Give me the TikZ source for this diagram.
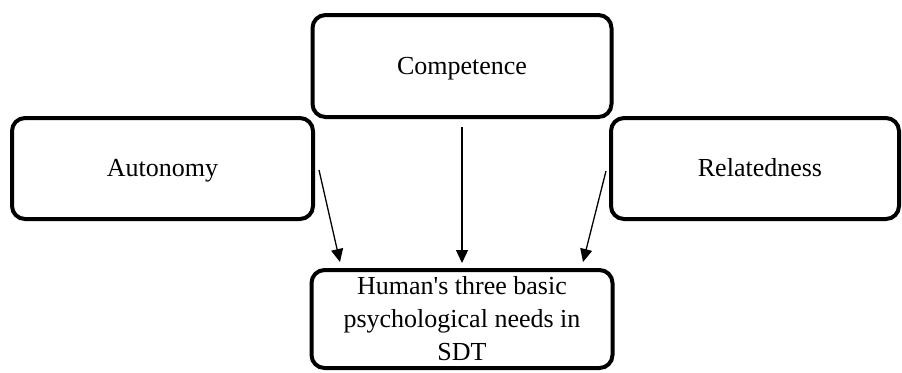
\documentclass[tikz,border=0pt]{standalone}
\usepackage{fontspec}
\setmainfont{Liberation Serif}[Ligatures=TeXOff]
\usepackage{tikz}
\usetikzlibrary{positioning, arrows.meta}

\begin{document}
\begin{tikzpicture}[
    x=0.5pt, y=-0.5pt,
    need/.style={rectangle, draw, rounded corners=6.5pt, line width=2pt, inner sep=0pt, align=center, font=\fontsize{13}{16.5}\selectfont},
    single/.style={need, text height=10.5pt, text depth=2.5pt},
    top/.style={single, minimum width=149.5pt, minimum height=51pt},
    side/.style={single, minimum width=150.5pt, minimum height=50.5pt},
    sdtbox/.style={need, minimum width=150.5pt, minimum height=49pt},
    link/.style={-{Triangle[length=6.5pt, width=6pt]}, line width=0.65pt}
]
\useasboundingbox (0,0) rectangle (902,372);

% The three needs
\node[top] (comp) at (462,66) {Competence};
\node[side] (auto) at (162.5,168.5) {Autonomy};
\node[side, minimum width=144pt] (rel) at (755,168.5) {\hspace{5pt}Relatedness};

% Theory box
\node[sdtbox] (sdt) at (462,319) {Human's three basic\\ psychological needs in\\ SDT};

% Arrows into the theory box
\draw[link] ([xshift=2pt, yshift=-0.75pt]auto.east) -- ([xshift=-61pt, yshift=3pt]sdt.north);
\draw[link] ([yshift=-4pt]comp.south) -- ([yshift=2.5pt]sdt.north);
\draw[link] ([xshift=-1.5pt, yshift=-1.25pt]rel.west) -- ([xshift=60.5pt, yshift=3pt]sdt.north);

\end{tikzpicture}
\end{document}
